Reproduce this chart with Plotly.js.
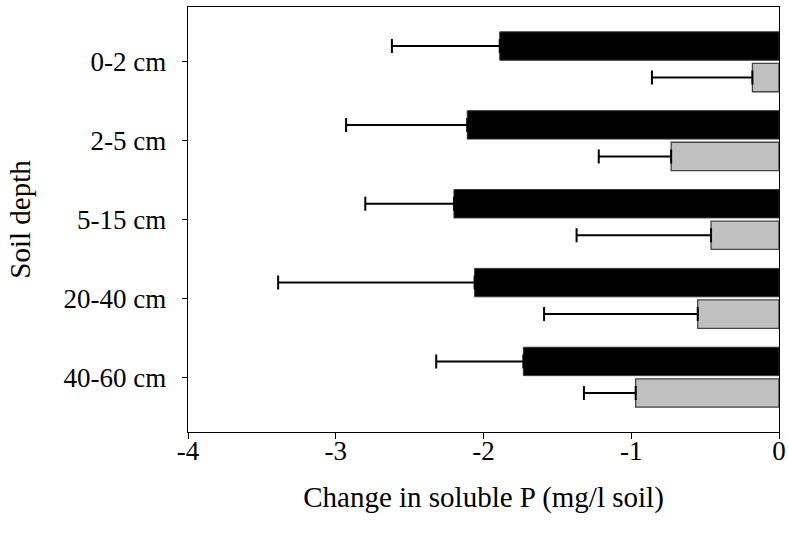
<!DOCTYPE html>
<html>
<head>
<meta charset="utf-8">
<script src="https://cdn.plot.ly/plotly-3.0.1.min.js"></script>
<style>html,body{margin:0;padding:0;background:#fff;}#chart{width:788px;height:541px;}</style>
</head>
<body>
<div id="chart"></div>
<script>
const depths = ["0-2 cm", "2-5 cm", "5-15 cm", "20-40 cm", "40-60 cm"];
const blackValues = [-1.89, -2.11, -2.20, -2.06, -1.73];
const blackErrors = [0.73, 0.82, 0.60, 1.33, 0.59];
const greyValues = [-0.18, -0.73, -0.46, -0.55, -0.97];
const greyErrors = [0.68, 0.49, 0.91, 1.04, 0.35];
const xTicks = [-4, -3, -2, -1, 0];

const tickFont = {family: "Liberation Serif, Times New Roman, serif", size: 27, color: "#000"};
const titleFont = {family: "Liberation Serif, Times New Roman, serif", size: 29, color: "#000"};

const traces = [
  {
    type: "bar", orientation: "h", y: depths, x: blackValues,
    marker: {color: "#000000", line: {color: "#333", width: 1}},
    error_x: {type: "data", symmetric: false, array: blackValues.map(() => 0), arrayminus: blackErrors,
              color: "#000", thickness: 2, width: 7},
    showlegend: false, hoverinfo: "skip"
  },
  {
    type: "bar", orientation: "h", y: depths, x: greyValues,
    marker: {color: "#c0c0c0", line: {color: "#444", width: 1.3}},
    error_x: {type: "data", symmetric: false, array: greyValues.map(() => 0), arrayminus: greyErrors,
              color: "#000", thickness: 2, width: 7},
    showlegend: false, hoverinfo: "skip"
  }
];

const layout = {
  width: 788, height: 541,
  margin: {l: 188, r: 9, t: 7, b: 109},
  paper_bgcolor: "#fff", plot_bgcolor: "#fff",
  font: tickFont,
  barmode: "group", bargap: 0.2, bargroupgap: 0.1,
  xaxis: {
    range: [-4, 0], tickvals: xTicks, ticktext: xTicks.map(String),
    showgrid: false, zeroline: false, showline: true, linecolor: "#000", linewidth: 1.3,
    mirror: true, ticks: "outside", ticklen: 6, tickcolor: "#000", tickwidth: 1,
    tickfont: tickFont, ticklabelstandoff: -12,
    title: {text: "Change in soluble P (mg/l soil)", font: titleFont, standoff: 22}
  },
  yaxis: {
    type: "category", range: [4.695, -0.695], autorange: false,
    showgrid: false, zeroline: false, showline: true, linecolor: "#000", linewidth: 1.3,
    mirror: true, ticks: "outside", ticklen: 5, tickcolor: "#000", tickwidth: 1,
    tickfont: tickFont, ticklabelstandoff: 10,
    title: {text: "Soil depth", font: titleFont, standoff: 24}
  }
};

Plotly.newPlot("chart", traces, layout, {displayModeBar: false, staticPlot: true});
</script>
</body>
</html>
